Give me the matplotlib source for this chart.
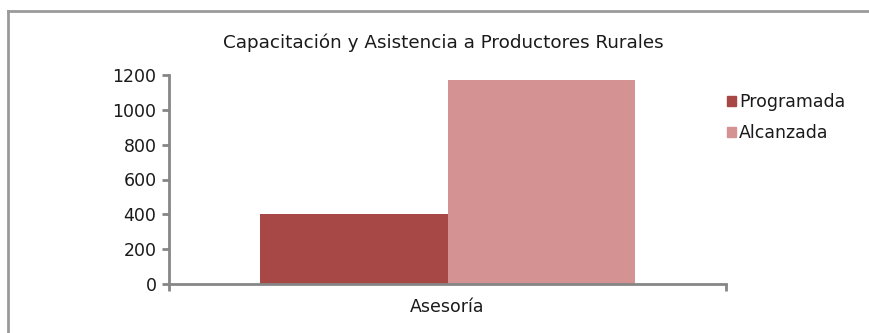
import matplotlib
matplotlib.use("Agg")
import matplotlib.pyplot as plt
from matplotlib.lines import Line2D
from matplotlib.patches import Patch

# data
categories = ["Asesoría"]
series_names = ["Programada", "Alcanzada"]
programada = [400]
alcanzada = [1170]
y_ticks = [0, 200, 400, 600, 800, 1000, 1200]

colors = ["#A84846", "#D49292"]
gray = "#868686"
text_color = "#1a1a1a"

plt.rcParams['font.family'] = ['DejaVu Sans']
plt.rcParams['text.color'] = text_color

fig = plt.figure(figsize=(8.69, 3.33), dpi=100)
ax = fig.add_axes([169 / 869, 1 - 284 / 333, (726 - 169) / 869, (284 - 75) / 333])

w = 0.336
x = list(range(len(categories)))
ax.bar([i - w / 2 for i in x], programada, width=w, color=colors[0], label=series_names[0])
ax.bar([i + w / 2 for i in x], alcanzada, width=w, color=colors[1], label=series_names[1])

ax.set_xlim(-0.5, 0.5)
ax.set_ylim(0, 1200)
ax.set_yticks(y_ticks)
ax.set_xticks(x)
ax.set_xticklabels(categories)
ax.set_xticks([-0.5, 0.5], minor=True)
ax.tick_params(axis='x', which='major', length=0, pad=10, labelsize=12.5, labelcolor=text_color)
ax.tick_params(axis='x', which='minor', length=5, width=2, color=gray)
ax.tick_params(axis='y', length=5, width=2, color=gray, labelsize=12.5, pad=4, labelcolor=text_color)

for side in ['top', 'right']:
    ax.spines[side].set_visible(False)
for side in ['left', 'bottom']:
    ax.spines[side].set_color(gray)
    ax.spines[side].set_linewidth(2)

fig.text(443 / 869, 1 - 43 / 333, "Capacitación y Asistencia a Productores Rurales",
         ha='center', va='center', fontsize=13.2)

handles = [Patch(color=c) for c in colors]
leg = fig.legend(handles, series_names, loc='upper left',
                 bbox_to_anchor=(720 / 869, 1 - 86 / 333), frameon=False,
                 handlelength=0.5, handleheight=0.5, handletextpad=0.2,
                 labelspacing=0.75, fontsize=12.5, borderaxespad=0)

# outer chart frame (runs off the right and bottom edges)
fig.add_artist(Line2D([8 / 869, 8 / 869], [0, 1 - 11 / 333], transform=fig.transFigure,
                      color="#9a9a9a", linewidth=2))
fig.add_artist(Line2D([8 / 869, 1], [1 - 11 / 333, 1 - 11 / 333], transform=fig.transFigure,
                      color="#9a9a9a", linewidth=2))

fig.savefig("out.png", dpi=100)
